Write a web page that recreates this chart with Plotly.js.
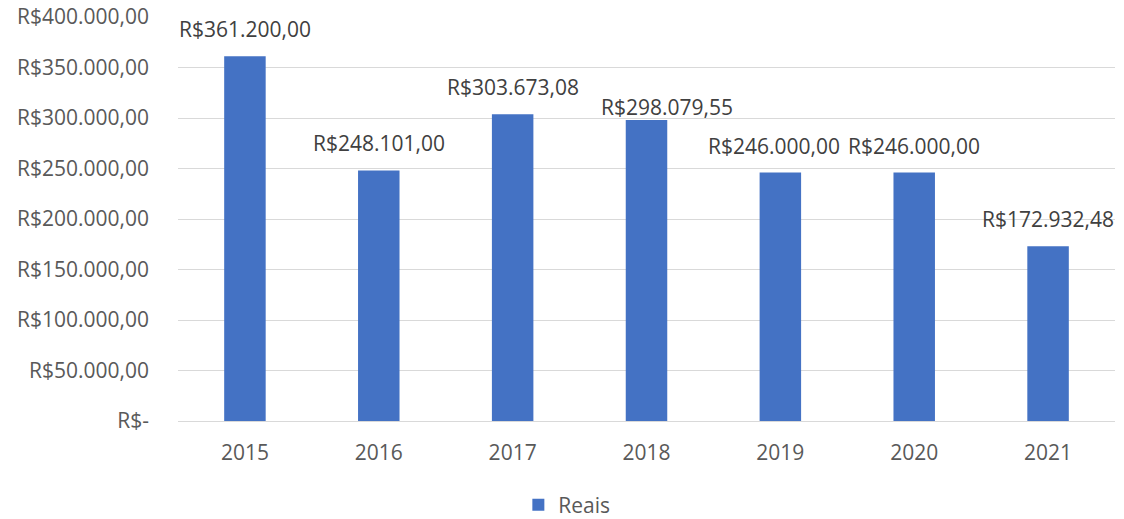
<!DOCTYPE html>
<html>
<head>
<meta charset="utf-8">
<script src="https://cdn.plot.ly/plotly-3.0.1.min.js"></script>
<style>html,body{margin:0;padding:0;background:#fff;}#chart{width:1124px;height:519px;}</style>
</head>
<body>
<div id="chart"></div>
<script>
var years = ['2015','2016','2017','2018','2019','2020','2021'];
var reais = [361200.00, 248101.00, 303673.08, 298079.55, 246000.00, 246000.00, 172932.48];
var tickValues = [0, 50000, 100000, 150000, 200000, 250000, 300000, 350000, 400000];
var seriesName = 'Reais';

function brl(v) {
  if (v === 0) return 'R$-';
  var parts = v.toFixed(2).split('.');
  var intPart = parts[0].replace(/\B(?=(\d{3})+(?!\d))/g, '.');
  return 'R$' + intPart + ',' + parts[1];
}

var FONT = '"Open Sans", Lato, sans-serif';
var FS = 21;

// label nudges (pixels), as placed in the original chart
var labelDX = [0, 0, 0, 20, -6, 0, 0];
var labelDY = [0, 0, 0, -14, 0, 0, 0];

var trace = {
  type: 'bar',
  x: years,
  y: reais,
  name: seriesName,
  marker: {color: '#4472C4'},
  hoverinfo: 'none',
  showlegend: true
};

var annotations = years.map(function(yr, i) {
  return {
    x: i, y: reais[i], xref: 'x', yref: 'y',
    text: brl(reais[i]), showarrow: false,
    yanchor: 'bottom', yshift: 11 + labelDY[i], xshift: labelDX[i],
    font: {family: FONT, size: FS, color: '#404040'}
  };
});

var layout = {
  width: 1124, height: 519,
  margin: {l: 178, r: 9, t: 17, b: 98},
  paper_bgcolor: '#ffffff', plot_bgcolor: '#ffffff',
  bargap: 0.69,
  font: {family: FONT, size: FS, color: '#595959'},
  xaxis: {
    type: 'category',
    range: [-0.5, years.length - 0.5],
    autorange: false,
    showgrid: false, zeroline: false,
    showline: false, ticks: '',
    ticklabelstandoff: 17,
    tickfont: {family: FONT, size: FS, color: '#595959'}
  },
  yaxis: {
    range: [0, 400000],
    autorange: false,
    tickvals: tickValues,
    ticktext: tickValues.map(brl),
    showgrid: true, gridcolor: '#d9d9d9', gridwidth: 1,
    zeroline: true, zerolinecolor: '#d9d9d9', zerolinewidth: 1,
    showline: false, ticks: '', ticklen: 0,
    ticklabelstandoff: 28,
    tickfont: {family: FONT, size: FS, color: '#595959'}
  },
  showlegend: true,
  legend: {
    orientation: 'h', x: 0.415, xanchor: 'center',
    yref: 'container', y: 0.027, yanchor: 'middle',
    font: {family: FONT, size: FS, color: '#595959'}
  },
  annotations: annotations
};

Plotly.newPlot('chart', [trace], layout, {displayModeBar: false, staticPlot: true});
</script>
</body>
</html>
